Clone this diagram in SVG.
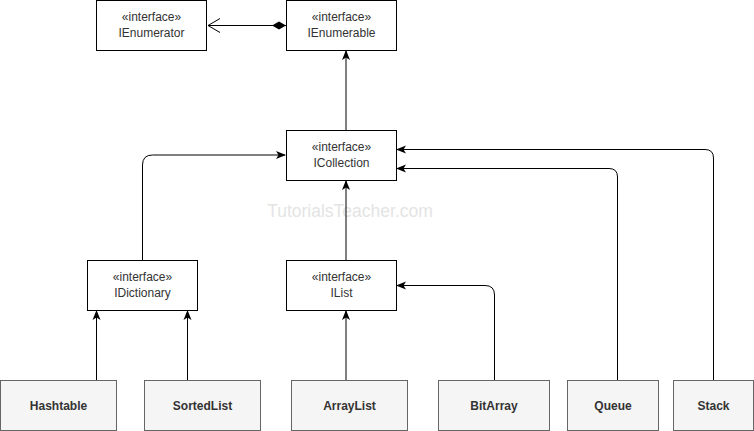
<svg xmlns="http://www.w3.org/2000/svg" width="754" height="431" viewBox="0 0 754 431">
<style>
.iface{fill:#fff;stroke:#000;stroke-width:1}
.cls{fill:#f5f5f5;stroke:#666;stroke-width:1}
.t{font-family:"Liberation Sans",Arial,sans-serif;font-size:12px;fill:#333;text-anchor:middle}
.b{font-weight:bold}
.e{fill:none;stroke:#000;stroke-width:1}
</style>
<defs>
<marker id="arr" viewBox="0 0 10 10" refX="9" refY="5" markerWidth="10" markerHeight="10" markerUnits="userSpaceOnUse" orient="auto">
<path d="M0,1 L10,5 L0,9 L2.5,5 Z" fill="#000"/>
</marker>
<marker id="dia" viewBox="0 0 16 10" refX="1" refY="5" markerWidth="16" markerHeight="10" markerUnits="userSpaceOnUse" orient="auto">
<path d="M1,5 L8,1 L15,5 L8,9 Z" fill="#000"/>
</marker>
<marker id="open" viewBox="0 0 14 16" refX="13" refY="8" markerWidth="14" markerHeight="16" markerUnits="userSpaceOnUse" orient="auto">
<path d="M1,1 L13,8 L1,15" fill="none" stroke="#000" stroke-width="1"/>
</marker>
</defs>
<rect width="754" height="431" fill="#fff"/>
<text x="350" y="217" style="font-family:'Liberation Sans',Arial,sans-serif;font-size:17.5px;fill:#e4e4e4;text-anchor:middle">TutorialsTeacher.com</text>
<g id="connectors">
<path class="e" d="M286,25.5 L208,25.5" marker-start="url(#dia)" marker-end="url(#open)"/>
<path class="e" d="M346,130 L346,51" marker-end="url(#arr)"/>
<path class="e" d="M346,260 L346,181" marker-end="url(#arr)"/>
<path class="e" d="M142.5,260 L142.5,165 Q142.5,155 152.5,155 L285,155" marker-end="url(#arr)"/>
<path class="e" d="M96.5,380 L96.5,311" marker-end="url(#arr)"/>
<path class="e" d="M187.5,380 L187.5,311" marker-end="url(#arr)"/>
<path class="e" d="M346,380 L346,311" marker-end="url(#arr)"/>
<path class="e" d="M494.5,380 L494.5,295 Q494.5,285.5 485,285.5 L397,285.5" marker-end="url(#arr)"/>
<path class="e" d="M617.5,380 L617.5,177 Q617.5,168.5 609,168.5 L397,168.5" marker-end="url(#arr)"/>
<path class="e" d="M713.5,380 L713.5,158 Q713.5,149.5 705,149.5 L397,149.5" marker-end="url(#arr)"/>
</g>
<g id="IEnumerator"><rect class="iface" x="96.5" y="0.5" width="110" height="50"/><text class="t" x="151.5" y="21">«interface»</text><text class="t" x="151.5" y="37">IEnumerator</text></g>
<g id="IEnumerable"><rect class="iface" x="286.5" y="0.5" width="110" height="50"/><text class="t" x="341.5" y="21">«interface»</text><text class="t" x="341.5" y="37">IEnumerable</text></g>
<g id="ICollection"><rect class="iface" x="286.5" y="130.5" width="110" height="50"/><text class="t" x="341.5" y="151">«interface»</text><text class="t" x="341.5" y="167">ICollection</text></g>
<g id="IDictionary"><rect class="iface" x="87.5" y="260.5" width="110" height="50"/><text class="t" x="142.5" y="281">«interface»</text><text class="t" x="142.5" y="297">IDictionary</text></g>
<g id="IList"><rect class="iface" x="286.5" y="260.5" width="110" height="50"/><text class="t" x="341.5" y="281">«interface»</text><text class="t" x="341.5" y="297">IList</text></g>
<g id="Hashtable"><rect class="cls" x="0.5" y="380.5" width="116" height="50"/><text class="t b" x="58.5" y="410">Hashtable</text></g>
<g id="SortedList"><rect class="cls" x="144.5" y="380.5" width="116" height="50"/><text class="t b" x="202.5" y="410">SortedList</text></g>
<g id="ArrayList"><rect class="cls" x="291.5" y="380.5" width="116" height="50"/><text class="t b" x="349.5" y="410">ArrayList</text></g>
<g id="BitArray"><rect class="cls" x="438.5" y="380.5" width="111" height="50"/><text class="t b" x="494" y="410">BitArray</text></g>
<g id="Queue"><rect class="cls" x="567.5" y="380.5" width="91" height="50"/><text class="t b" x="613" y="410">Queue</text></g>
<g id="Stack"><rect class="cls" x="673.5" y="380.5" width="80" height="50"/><text class="t b" x="713.5" y="410">Stack</text></g>
</svg>
